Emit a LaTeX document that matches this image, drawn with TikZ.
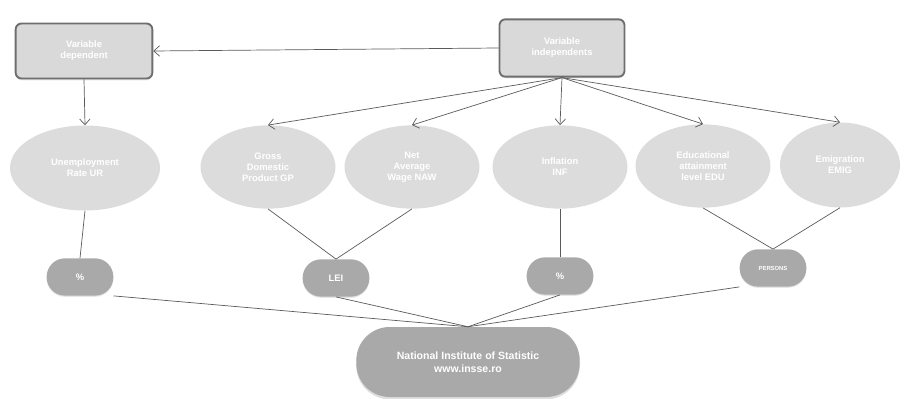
\documentclass[tikz,border=0pt]{standalone}
\usepackage{fontspec}
\setmainfont{Liberation Sans}
\usetikzlibrary{shapes.geometric,shadows,arrows.meta}
\definecolor{boxfill}{HTML}{D9D9D9}
\definecolor{boxline}{HTML}{6E6E6E}
\definecolor{ovalfill}{HTML}{DCDCDC}
\definecolor{unitfill}{HTML}{A9A9A9}
\definecolor{linkcol}{HTML}{5A5A5A}
\tikzset{
  varbox/.style={draw=boxline, line width=1.6pt, fill=boxfill, rounded corners=5pt,
    minimum width=4.1cm, minimum height=1.65cm, text=white, font=\footnotesize\bfseries,
    align=center, drop shadow={opacity=0.2, shadow xshift=0pt, shadow yshift=-1.5pt}},
  oval/.style={ellipse, fill=ovalfill, minimum width=4.05cm, minimum height=2.5cm,
    text=white, font=\footnotesize\bfseries, align=center, inner sep=0pt},
  unit/.style={fill=unitfill, rounded corners=0.55cm, minimum width=2cm, minimum height=1.12cm,
    text=white, font=\footnotesize\bfseries, align=center,
    drop shadow={opacity=0.2, shadow xshift=0pt, shadow yshift=-1pt}},
  source/.style={fill=unitfill, rounded corners=1cm, minimum width=6.7cm, minimum height=2.1cm,
    text=white, font=\small\bfseries, align=center,
    drop shadow={opacity=0.25, shadow xshift=0pt, shadow yshift=-2pt}},
  link/.style={draw=linkcol, line width=0.6pt},
  arr/.style={link, -{Straight Barb[length=5pt,width=9pt]}},
}
\begin{document}
\begin{tikzpicture}[x=0.03cm, y=-0.03cm]
  \useasboundingbox (0,0) rectangle (905,399);
  % top row
  \node[varbox] (dep) at (84,51) {Variable\\dependent};
  \node[varbox, minimum width=3.75cm, minimum height=1.72cm] (indep) at (562,48) {Variable\\independents};
  % middle row
  \node[oval, minimum width=4.5cm, minimum height=2.55cm] (ur) at (85,168) {Unemployment\\Rate UR};
  \node[oval] (gdp) at (268,167) {Gross\\Domestic\\Product GP};
  \node[oval] (naw) at (412,167) {Net\\Average\\Wage NAW};
  \node[oval] (inf) at (560,167) {Inflation\\INF};
  \node[oval] (edu) at (703,166) {Educational\\attainment\\level EDU};
  \node[oval, minimum width=3.6cm, minimum height=2.55cm] (emig) at (840,165) {Emigration\\EMIG};
  % units
  \node[unit] (u1) at (80,277) {\%};
  \node[unit] (u2) at (336,278) {LEI};
  \node[unit] (u3) at (560,276) {\%};
  \node[unit, font=\tiny\bfseries] (u4) at (773,268) {PERSONS};
  % source
  \node[source] (ins) at (468,362) {National Institute of Statistic\\www.insse.ro};
  \draw [arr] (indep.west) -- (dep.east);
  \draw [arr] (dep.south) -- (ur.north);
  \draw [arr] (indep.south) -- (gdp.north);
  \draw [arr] (indep.south) -- (naw.north);
  \draw [arr] (indep.south) -- (inf.north);
  \draw [arr] (indep.south) -- (edu.north);
  \draw [arr] (indep.south) -- (emig.north);
  \draw [link] (ur.south) -- (u1.north);
  \draw [link] (gdp.south) -- (u2.north);
  \draw [link] (naw.south) -- (u2.north);
  \draw [link] (inf.south) -- (u3.north);
  \draw [link] (edu.south) -- (u4.north);
  \draw [link] (emig.south) -- (u4.north);
  \draw [link] (u1.south east) -- (ins.north);
  \draw [link] (u2.south) -- (ins.north);
  \draw [link] (u3.south) -- (ins.north);
  \draw [link] (u4.south west) -- (ins.north);
\end{tikzpicture}
\end{document}
